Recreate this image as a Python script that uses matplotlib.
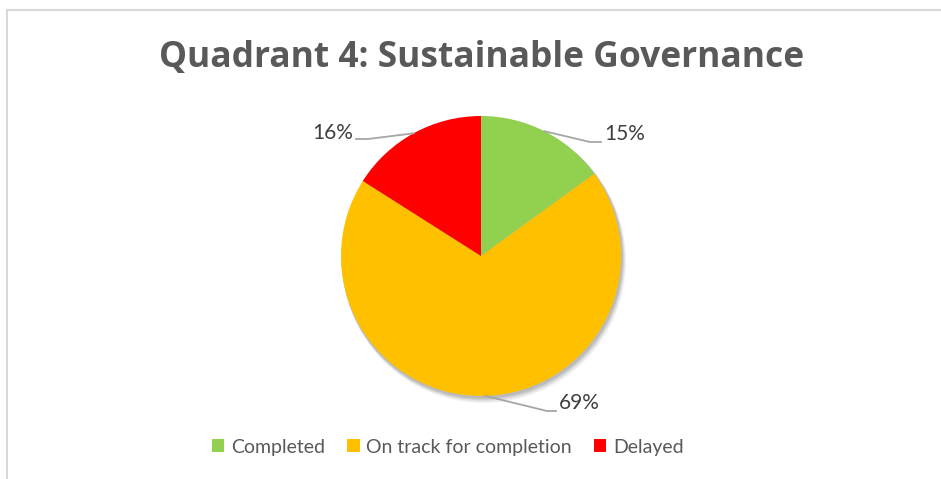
import matplotlib
matplotlib.use("Agg")
import matplotlib.pyplot as plt
import numpy as np
from matplotlib.patches import Circle
from matplotlib.lines import Line2D

title = "Quadrant 4: Sustainable Governance"
categories = ["Completed", "On track for completion", "Delayed"]
values = [15, 69, 16]
colors = ["#92D050", "#FFC000", "#FF0000"]

W, H = 941, 479
fig = plt.figure(figsize=(W / 100, H / 100), dpi=100)
ax = fig.add_axes([0, 0, 1, 1])
ax.set_xlim(0, W)
ax.set_ylim(0, H)
ax.set_aspect("equal")
ax.axis("off")

plt.rcParams["font.family"] = ["Lato", "DejaVu Sans"]

# chart border (top and left)
ax.add_line(Line2D([7, W], [H - 10, H - 10], color="#D9D9D9", lw=1.5))
ax.add_line(Line2D([7, 7], [0, H - 10], color="#D9D9D9", lw=1.5))

cx, cy, r = 481, H - 256, 140

# soft shadow
for d, a in [(5, 0.05), (4, 0.06), (3, 0.08), (2, 0.10)]:
    ax.add_patch(Circle((cx + d * 0.6, cy - d), r + d * 0.4, color="black", alpha=a, lw=0, zorder=1))

wedges, _ = ax.pie(values, colors=colors, startangle=90, counterclock=False,
                   center=(cx, cy), radius=r, frame=True,
                   wedgeprops=dict(linewidth=0, zorder=2))
ax.set_xlim(0, W)
ax.set_ylim(0, H)
ax.axis("off")

# data labels with leader lines
label_layout = {
    0: dict(bend=(590, 142), end=(601, 142), text=(604, 134), ha="left"),
    1: dict(bend=(547, 411), end=(556, 411), text=(559, 403), ha="left"),
    2: dict(bend=(368, 139), end=(356, 139), text=(353, 133), ha="right"),
}
total = sum(values)
for i, w in enumerate(wedges):
    ang = np.deg2rad((w.theta1 + w.theta2) / 2)
    sx, sy = cx + r * np.cos(ang), cy + r * np.sin(ang)
    lay = label_layout[i]
    bx, by = lay["bend"][0], H - lay["bend"][1]
    ex, ey = lay["end"][0], H - lay["end"][1]
    ax.add_line(Line2D([sx, bx, ex], [sy, by, ey], color="#A6A6A6", lw=1.3, zorder=3))
    ax.text(lay["text"][0], H - lay["text"][1], f"{round(values[i] / total * 100)}%",
            ha=lay["ha"], va="center", fontsize=15, color="#404040")

ax.text(481.5, H - 58, title, ha="center", va="center", fontsize=25.5,
        fontweight="bold", color="#595959", family=["Open Sans", "DejaVu Sans"])

leg = ax.legend(wedges, categories, loc="center", bbox_to_anchor=(448 / W, (H - 447) / H),
                ncol=3, frameon=False, fontsize=14, labelcolor="#595959",
                handlelength=0.62, handleheight=0.62, handletextpad=0.35,
                columnspacing=1.15, borderaxespad=0)

fig.savefig("out.png", dpi=100)
